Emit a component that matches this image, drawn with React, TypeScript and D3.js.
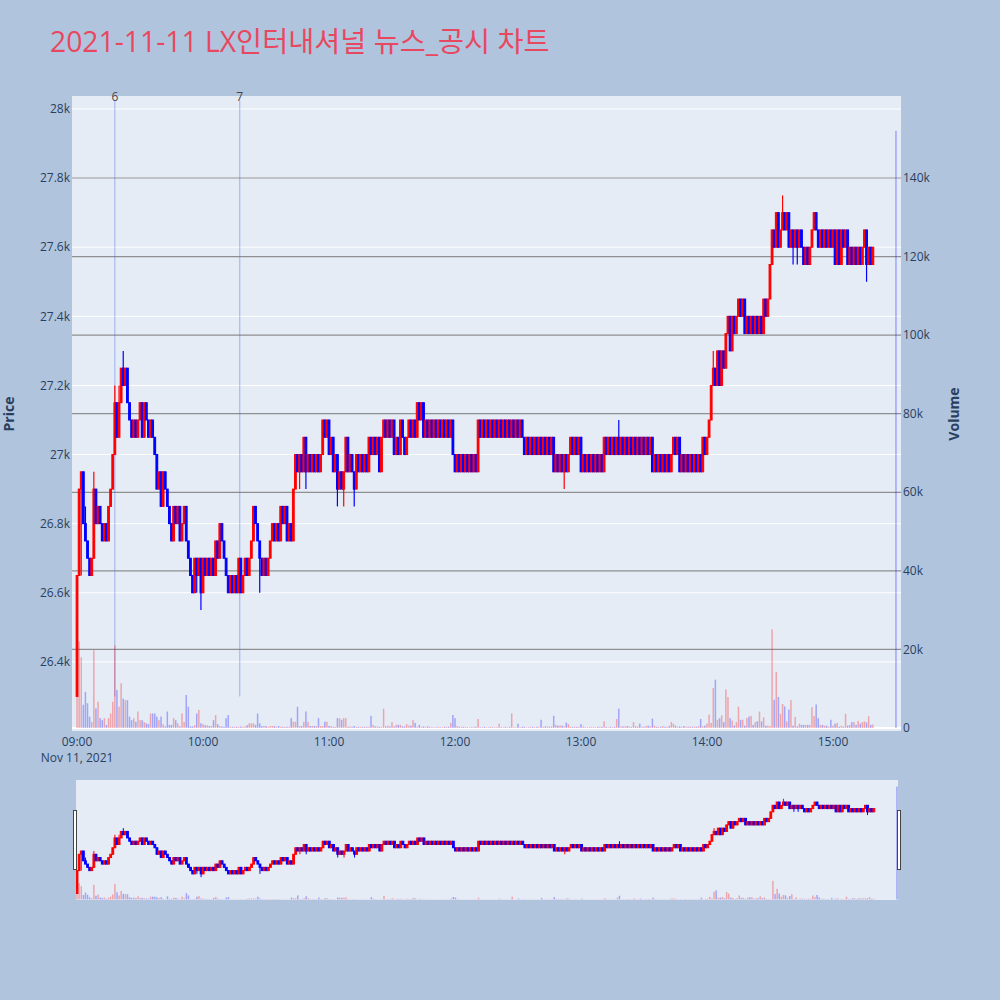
import * as d3 from "d3";

// chart text
const TITLE = "2021-11-11 LX인터내셔널 뉴스_공시 차트";
const DATE_LABEL = "Nov 11, 2021";

// one candle per minute from 09:00 to 15:19 (open = previous close)
const firstOpen = 26300;
const closePrices = [
  26650, 26900, 26950, 26800, 26750, 26700, 26650, 26700, 26900, 26800,
  26850, 26800, 26750, 26800, 26750, 26850, 26900, 27000, 27150, 27050,
  27150, 27250, 27200, 27250, 27150, 27100, 27050, 27100, 27050, 27100,
  27150, 27050, 27150, 27100, 27050, 27100, 27050, 27000, 26900, 26950,
  26850, 26950, 26900, 26850, 26800, 26750, 26850, 26800, 26850, 26750,
  26800, 26850, 26750, 26700, 26650, 26600, 26700, 26650, 26700, 26600,
  26700, 26650, 26700, 26650, 26700, 26650, 26750, 26700, 26800, 26750,
  26700, 26650, 26600, 26650, 26600, 26650, 26600, 26700, 26600, 26650,
  26700, 26650, 26700, 26750, 26850, 26800, 26750, 26700, 26650, 26700,
  26650, 26700, 26750, 26800, 26750, 26800, 26750, 26850, 26800, 26850,
  26750, 26800, 26750, 26900, 27000, 26950, 27000, 26950, 27050, 26950,
  27000, 26950, 27000, 26950, 27000, 26950, 27000, 27100, 27050, 27100,
  27000, 27050, 26950, 27000, 26900, 26950, 26900, 26950, 27050, 26950,
  27000, 26950, 26900, 27000, 26950, 27000, 26950, 27000, 26950, 27050,
  27000, 27050, 27000, 27050, 26950, 27050, 27100, 27050, 27100, 27050,
  27100, 27000, 27050, 27000, 27100, 27050, 27000, 27050, 27100, 27050,
  27100, 27050, 27150, 27100, 27150, 27050, 27100, 27050, 27100, 27050,
  27100, 27050, 27100, 27050, 27100, 27050, 27100, 27050, 27100, 27000,
  26950, 27000, 26950, 27000, 26950, 27000, 26950, 27000, 26950, 27000,
  26950, 27100, 27050, 27100, 27050, 27100, 27050, 27100, 27050, 27100,
  27050, 27100, 27050, 27100, 27050, 27100, 27050, 27100, 27050, 27100,
  27050, 27100, 27050, 27000, 27050, 27000, 27050, 27000, 27050, 27000,
  27050, 27000, 27050, 27000, 27050, 27000, 27050, 26950, 27000, 26950,
  27000, 26950, 27000, 26950, 27000, 27050, 27000, 27050, 27000, 27050,
  26950, 27000, 26950, 27000, 26950, 27000, 26950, 27000, 26950, 27000,
  26950, 27050, 27000, 27050, 27000, 27050, 27000, 27050, 27000, 27050,
  27000, 27050, 27000, 27050, 27000, 27050, 27000, 27050, 27000, 27050,
  27000, 27050, 27000, 27050, 26950, 27000, 26950, 27000, 26950, 27000,
  26950, 27000, 26950, 27000, 27050, 27000, 27050, 26950, 27000, 26950,
  27000, 26950, 27000, 26950, 27000, 26950, 27000, 26950, 27050, 27000,
  27050, 27100, 27200, 27250, 27200, 27300, 27200, 27300, 27250, 27350,
  27400, 27300, 27400, 27350, 27400, 27450, 27400, 27450, 27350, 27400,
  27350, 27400, 27350, 27400, 27350, 27400, 27350, 27450, 27400, 27450,
  27550, 27650, 27600, 27700, 27600, 27650, 27700, 27650, 27700, 27600,
  27650, 27600, 27650, 27600, 27650, 27600, 27550, 27600, 27550, 27600,
  27650, 27700, 27650, 27600, 27650, 27600, 27650, 27600, 27650, 27600,
  27650, 27550, 27650, 27550, 27650, 27600, 27650, 27550, 27600, 27550,
  27600, 27550, 27600, 27550, 27600, 27650, 27550, 27600, 27550, 27600,
];

// wicks that reach beyond the body: [minute, price]
const wickHighs = [
  [4, 26850], [8, 26950], [18, 27200], [20, 27200], [22, 27300],
  [258, 27100], [303, 27300], [336, 27750],
];
const wickLows = [
  [2, 26650], [57, 26600], [59, 26550], [87, 26600], [106, 26900], [109, 26900],
  [124, 26850], [127, 26850], [132, 26850], [232, 26900], [341, 27550],
  [343, 27550], [376, 27500],
];

// traded volume per minute
const volumes = [
  27000, 22000, 18000, 5900, 9200, 6300, 2900, 1500, 19800, 5000,
  6700, 2500, 2000, 2500, 800, 2500, 3700, 6700, 21000, 9700,
  5400, 11400, 7500, 7100, 7100, 2900, 2000, 2500, 1600, 4200,
  2000, 2000, 1500, 1200, 1000, 3700, 3700, 3700, 2900, 2000,
  2900, 1000, 400, 4200, 800, 800, 2500, 2000, 1200, 400,
  3700, 1500, 8400, 5400, 400, 400, 700, 3700, 4600, 1200,
  1000, 700, 700, 500, 500, 2000, 3300, 1000, 500, 400,
  300, 2500, 3300, 300, 300, 300, 300, 300, 400, 300,
  400, 700, 1200, 1200, 1200, 800, 3700, 1200, 500, 500,
  500, 300, 500, 500, 500, 300, 500, 300, 300, 300,
  300, 300, 2500, 1600, 1600, 5400, 500, 500, 1600, 4200,
  1600, 500, 500, 500, 500, 2500, 500, 500, 1600, 1600,
  500, 500, 300, 300, 2500, 2500, 2100, 2500, 2500, 300,
  400, 300, 500, 300, 300, 300, 300, 300, 300, 300,
  3100, 800, 400, 400, 300, 300, 4900, 400, 600, 400,
  1500, 400, 800, 800, 800, 400, 400, 1000, 600, 600,
  2000, 1300, 300, 800, 300, 400, 300, 400, 300, 200,
  200, 200, 300, 200, 200, 300, 300, 300, 1300, 3300,
  2500, 500, 300, 300, 300, 300, 200, 200, 200, 300,
  300, 2300, 200, 200, 300, 200, 200, 300, 200, 200,
  200, 1100, 200, 200, 300, 200, 300, 3700, 200, 200,
  1100, 200, 300, 300, 200, 200, 300, 300, 200, 300,
  300, 2100, 300, 400, 400, 300, 400, 3100, 800, 600,
  600, 600, 400, 1400, 1000, 300, 300, 300, 300, 300,
  1000, 400, 200, 200, 200, 300, 200, 200, 300, 300,
  300, 1700, 300, 200, 300, 200, 300, 2300, 4900, 400,
  400, 400, 500, 400, 300, 1500, 400, 400, 1100, 300,
  300, 500, 600, 400, 2400, 600, 300, 300, 300, 500,
  300, 300, 500, 1500, 1100, 600, 300, 400, 300, 500,
  300, 300, 400, 300, 400, 300, 500, 2300, 400, 600,
  1100, 3400, 1300, 10200, 12300, 2100, 2500, 3200, 1500, 9800,
  7900, 2500, 1900, 600, 1500, 5400, 2100, 2100, 600, 2500,
  2900, 3100, 800, 1500, 1700, 4200, 1700, 2700, 600, 600,
  500, 25100, 7200, 14300, 7900, 3600, 6100, 5500, 1700, 4700,
  7100, 600, 2800, 400, 1100, 800, 800, 800, 800, 800,
  5300, 3100, 6000, 2500, 800, 800, 600, 600, 300, 2100,
  600, 1100, 1300, 300, 600, 300, 3600, 600, 800, 1500,
  1500, 800, 1800, 1100, 1500, 1700, 1400, 3000, 800, 900,
];

// closing auction at 15:30
const closingAuction = { hour: 15, minute: 30, price: 27100, volume: 152000 };

// news / disclosure markers
const newsLabels = ["6", "7"];
const newsTimes = ["09:18:00", "10:17:30"];

const priceTicks = [26400, 26600, 26800, 27000, 27200, 27400, 27600, 27800, 28000];
const volumeTicks = [0, 20000, 40000, 60000, 80000, 100000, 120000, 140000];
const timeTicks = ["09:00", "10:00", "11:00", "12:00", "13:00", "14:00", "15:00"];

const day = (h: number, m: number, s = 0) => new Date(2021, 10, 11, h, m, s);
const parseHMS = (str: string) => {
  const [h, m, s] = str.split(":").map(Number);
  return day(h, m, s || 0);
};

const UP = "#ff0000";
const DOWN = "#0000ff";
const FONT = "'Open Sans', 'Noto Sans CJK KR', sans-serif";
const AXIS_COLOR = "#2a3f5f";

const candles = closePrices.map((c, i) => {
  const o = i === 0 ? firstOpen : closePrices[i - 1];
  let h = Math.max(o, c);
  let l = Math.min(o, c);
  wickHighs.forEach(([m, p]) => { if (m === i) h = Math.max(h, p); });
  wickLows.forEach(([m, p]) => { if (m === i) l = Math.min(l, p); });
  return { t: day(9, i), o, h, l, c, v: volumes[i] };
});
candles.push({
  t: day(closingAuction.hour, closingAuction.minute),
  o: closingAuction.price, h: closingAuction.price, l: closingAuction.price,
  c: closingAuction.price, v: closingAuction.volume,
});

const minLow = d3.min(candles, (d) => d.l) as number;

export default function App() {
  // main plot
  const left = 72, right = 901, top = 96, bottom = 731;
  const x = d3.scaleTime().domain([day(8, 57, 36), day(15, 32, 24)]).range([left, right]);
  const yP = d3.scaleLinear().domain([26200, 28037.6]).range([bottom, top]);
  const yV = d3.scaleLinear().domain([-764, 160873]).range([bottom, top]);

  // range slider
  const sTop = 780, sBottom = 900;
  const xs = d3.scaleTime().domain([day(8, 59, 30), day(15, 30, 30)]).range([76, 898]);
  const yPs = d3.scaleLinear().domain(yP.domain()).range([sBottom, sTop]);
  const yVs = d3.scaleLinear().domain(yV.domain()).range([sBottom, sTop]);

  const fmtK = d3.format("~s");
  const fmtTime = d3.timeFormat("%H:%M");
  const colorOf = (d: { o: number; c: number }) => (d.c > d.o ? UP : DOWN);

  return (
    <div style={{ position: "absolute", left: 0, top: 0, width: 1000, height: 1000 }}>
      <svg width={1000} height={1000} style={{ display: "block", fontFamily: FONT }}>
        <defs>
          <clipPath id="mainClip">
            <rect x={left} y={top} width={right - left} height={bottom - top} />
          </clipPath>
          <clipPath id="sliderClip">
            <rect x={76} y={sTop} width={822} height={sBottom - sTop} />
          </clipPath>
        </defs>
        <rect width={1000} height={1000} fill="#b0c4de" />

        <text x={50} y={52} fill="#e8485f" fontSize={28.3}>{TITLE}</text>

        {/* main plot background and grid */}
        <rect x={left} y={top} width={right - left} height={bottom - top} fill="#e5ecf6" />
        {priceTicks.map((p) => (
          <line key={"pg" + p} x1={left} x2={right} y1={yP(p)} y2={yP(p)} stroke="#fff" strokeWidth={1} />
        ))}
        {volumeTicks.filter((v) => v > 0).map((v) => (
          <line key={"vg" + v} x1={left} x2={right} y1={yV(v)} y2={yV(v)} stroke="#8f8f8f" strokeWidth={1.2} />
        ))}
        <line x1={left} x2={right} y1={yV(0)} y2={yV(0)} stroke="#fff" strokeWidth={2} />

        {/* news markers */}
        {newsTimes.map((s, i) => {
          const xx = x(parseHMS(s));
          return (
            <g key={"n" + i}>
              <line x1={xx} x2={xx} y1={top + 5} y2={yP(minLow)} stroke="rgba(65,105,225,0.45)" strokeWidth={1} />
              <text x={xx} y={101} textAnchor="middle" fontSize={12} fill="#444">{newsLabels[i]}</text>
            </g>
          );
        })}

        {/* candles */}
        <g clipPath="url(#mainClip)">
          {candles.map((d, i) => {
            const cx = x(d.t);
            const col = colorOf(d);
            const y0 = yP(Math.max(d.o, d.c));
            const y1 = yP(Math.min(d.o, d.c));
            return (
              <g key={"c" + i}>
                <line x1={cx} x2={cx} y1={yP(d.h)} y2={yP(d.l)} stroke={col} strokeWidth={1.2} />
                <rect x={cx - 0.9} y={y0} width={1.8} height={y1 - y0} fill={col} stroke={col} strokeWidth={1} />
              </g>
            );
          })}
          {candles.map((d, i) => {
            const cx = x(d.t);
            return (
              <rect key={"v" + i} x={cx - 0.75} y={yV(d.v)} width={1.5} height={yV(0) - yV(d.v)}
                fill={colorOf(d)} fillOpacity={0.3} />
            );
          })}
        </g>

        {/* axes labels */}
        {priceTicks.map((p) => (
          <text key={"pl" + p} x={70} y={yP(p)} dy="0.35em" textAnchor="end" fontSize={12} fill={AXIS_COLOR}>
            {fmtK(p)}
          </text>
        ))}
        {volumeTicks.map((v) => (
          <text key={"vl" + v} x={903} y={yV(v)} dy="0.35em" textAnchor="start" fontSize={12} fill={AXIS_COLOR}>
            {v === 0 ? "0" : fmtK(v)}
          </text>
        ))}
        {timeTicks.map((s) => {
          const t = parseHMS(s + ":00");
          return (
            <text key={"t" + s} x={x(t)} y={746} textAnchor="middle" fontSize={12} fill={AXIS_COLOR}>
              {fmtTime(t)}
            </text>
          );
        })}
        <text x={x(day(9, 0))} y={762} textAnchor="middle" fontSize={12} fill={AXIS_COLOR}>{DATE_LABEL}</text>

        <text transform="translate(14,414) rotate(-90)" textAnchor="middle" fontSize={14} fontWeight="bold" fill={AXIS_COLOR}>
          Price
        </text>
        <text transform="translate(959,414) rotate(-90)" textAnchor="middle" fontSize={14} fontWeight="bold" fill={AXIS_COLOR}>
          Volume
        </text>

        {/* range slider */}
        <rect x={76} y={sTop} width={822} height={sBottom - sTop} fill="#e5ecf6" />
        <g clipPath="url(#sliderClip)">
          {candles.map((d, i) => {
            const cx = xs(d.t);
            const col = colorOf(d);
            const y0 = yPs(Math.max(d.o, d.c));
            const y1 = yPs(Math.min(d.o, d.c));
            return (
              <g key={"sc" + i}>
                <line x1={cx} x2={cx} y1={yPs(d.h)} y2={yPs(d.l)} stroke={col} strokeWidth={1} />
                <rect x={cx - 0.9} y={y0} width={1.8} height={y1 - y0} fill={col} stroke={col} strokeWidth={1} />
              </g>
            );
          })}
          {candles.map((d, i) => {
            const cx = xs(d.t);
            return (
              <rect key={"sv" + i} x={cx - 0.75} y={yVs(d.v)} width={1.5} height={yVs(0) - yVs(d.v)}
                fill={colorOf(d)} fillOpacity={0.3} />
            );
          })}
        </g>
        <rect x={73.5} y={810.5} width={3} height={59} fill="#fff" stroke="#444" strokeWidth={1} />
        <rect x={897.5} y={810.5} width={3} height={59} fill="#fff" stroke="#444" strokeWidth={1} />
      </svg>
    </div>
  );
}
